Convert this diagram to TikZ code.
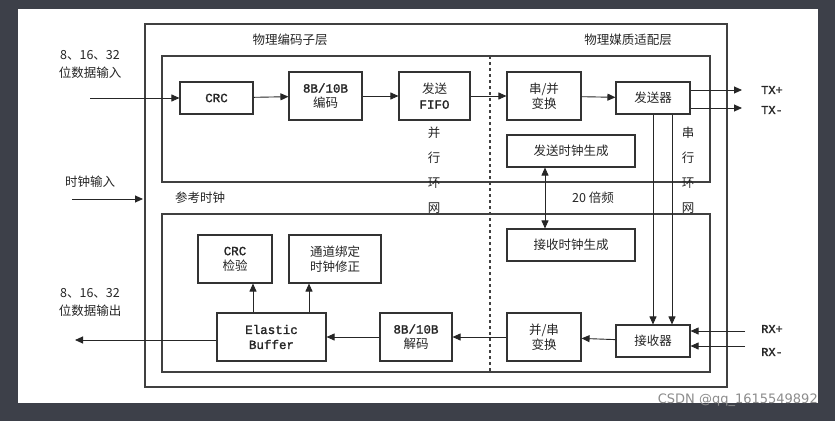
\documentclass[tikz,border=0pt]{standalone}
\usepackage{fontspec}
\setmainfont{Noto Sans CJK SC}
\newfontfamily\monof{Liberation Mono}[FakeBold=1.5]
\newfontfamily\wmf{DejaVu Sans}
\usetikzlibrary{arrows.meta}
\begin{document}
\begin{tikzpicture}[x=1pt,y=-1pt,
  bx/.style={draw=black!80,line width=1.1pt,inner sep=0pt,align=center,text=black!85,font=\fontsize{12.5}{15}\selectfont},
  ar/.style={-{Triangle[length=8pt,width=7pt]},line width=0.9pt,black!85},
  lb/.style={font=\fontsize{12.5}{15}\selectfont,text=black!85,align=center}]
\fill[fill={rgb,255:red,61;green,64;blue,73}] (0,0) rectangle (835,421);
\fill[white] (18,9) rectangle (818,403);
\useasboundingbox (0,0) rectangle (835,421);
\draw[black!75,line width=1.1pt] (145,24) rectangle (727,387);
\draw[black!75,line width=1.1pt] (162,56) rectangle (710,182);
\draw[black!75,line width=1.1pt] (162,214) rectangle (710,372);
\draw[black!75,line width=1.1pt,dashed] (490,56) -- (490,372);
\node[lb] (t1) at (290,40) {物理编码子层};
\node[lb] (t2) at (628,40) {物理媒质适配层};
% boxes
\node[bx,minimum width=73pt,minimum height=32pt] (crc) at (216.5,98) {\monof CRC};
\node[bx,minimum width=73pt,minimum height=48pt] (enc) at (325.5,96) {\monof 8B/10B\\编码};
\node[bx,minimum width=71pt,minimum height=48pt] (fifo) at (434.5,96) {发送\\\monof FIFO};
\node[bx,minimum width=74pt,minimum height=48pt] (sp) at (544,96) {串/并\\变换};
\node[bx,minimum width=74pt,minimum height=32pt] (tx) at (653,98) {发送器};
\node[bx,minimum width=128pt,minimum height=32pt] (tclk) at (571,151) {发送时钟生成};
\node[bx,minimum width=128pt,minimum height=32pt] (rclk) at (571,245) {接收时钟生成};
\node[bx,minimum width=74pt,minimum height=32pt] (rx) at (653,341) {接收器};
\node[bx,minimum width=74pt,minimum height=48pt] (ps) at (544,337) {并/串\\变换};
\node[bx,minimum width=72pt,minimum height=48pt] (dec) at (416,337) {\monof 8B/10B\\解码};
\node[bx,minimum width=109pt,minimum height=48pt] (eb) at (271.5,337) {\monof Elastic\\\monof Buffer};
\node[bx,minimum width=74pt,minimum height=48pt] (crcc) at (235,259) {\monof CRC\\检验};
\node[bx,minimum width=92pt,minimum height=48pt] (bond) at (335,259) {通道绑定\\时钟修正};
% labels
\node[lb,font=\fontsize{12.5}{18}\selectfont] (in) at (90,64) {8、16、32\\位数据输入};
\node[lb,font=\fontsize{12.5}{18}\selectfont] (out) at (90,302) {8、16、32\\位数据输出};
\node[lb] (clkin) at (90,182) {时钟输入};
\node[lb] (ref) at (200,198) {参考时钟};
\node[lb] (x20) at (593,198) {20 倍频};
\node[lb,font=\fontsize{12.5}{25}\selectfont] (par) at (434,170) {并\\行\\环\\网};
\node[lb,font=\fontsize{12.5}{25}\selectfont] (ser) at (688,170) {串\\行\\环\\网};
\node[lb,font=\monof\fontsize{12}{13}\selectfont] (txp) at (772,90) {TX+};
\node[lb,font=\monof\fontsize{12}{13}\selectfont] (txm) at (772,110) {TX-};
\node[lb,font=\monof\fontsize{12}{13}\selectfont] (rxp) at (772,329) {RX+};
\node[lb,font=\monof\fontsize{12}{13}\selectfont] (rxm) at (772,352) {RX-};
\node[text=black!45,font=\wmf\fontsize{13}{14}\selectfont,anchor=east,inner sep=0pt] (wm) at (818,400) {CSDN @qq\_1615549892};
% coordinates
\coordinate (inS) at (90,98);
\coordinate (clkS) at (72,199);
\coordinate (clkE) at (143,199);
\coordinate (outE) at (75,340);
\coordinate (txpE) at (742,90);
\coordinate (txmE) at (742,108);
\coordinate (rxpS) at (745,331);
\coordinate (rxmS) at (745,346);
% connectors
\draw[ar] (inS) -- (crc.west);
\draw[ar] (crc) -- (enc);
\draw[ar] (enc) -- (fifo);
\draw[ar] (fifo) -- (sp);
\draw[ar] (sp) -- (tx);
\draw[ar] (tx.east|-txpE) -- (txpE);
\draw[ar] (tx.east|-txmE) -- (txmE);
\draw[ar] (clkS) -- (clkE);
\draw[ar,{Triangle[length=8pt,width=7pt]}-{Triangle[length=8pt,width=7pt]}] (tclk.south-|545,0) -- (rclk.north-|545,0);
\draw[ar] (tx.south-|653,0) -- (rx.north-|653,0);
\draw[ar] (tx.south-|672,0) -- (rx.north-|672,0);
\draw[ar] (rxpS) -- (rx.east|-rxpS);
\draw[ar] (rxmS) -- (rx.east|-rxmS);
\draw[ar] (rx) -- (ps);
\draw[ar] (ps) -- (dec);
\draw[ar] (dec) -- (eb);
\draw[ar] (eb.west|-outE) -- (outE);
\draw[ar] (eb.north-|253,0) -- (crcc.south-|253,0);
\draw[ar] (eb.north-|309,0) -- (bond.south-|309,0);
\end{tikzpicture}
\end{document}
